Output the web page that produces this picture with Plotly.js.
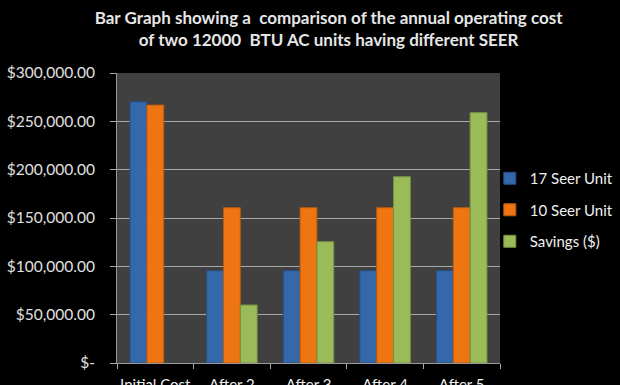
<!DOCTYPE html>
<html>
<head>
<meta charset="utf-8">
<script src="https://cdn.plot.ly/plotly-3.0.1.min.js"></script>
<style>html,body{margin:0;padding:0;background:#000;}#chart{width:620px;height:385px;}</style>
</head>
<body>
<div id="chart"></div>
<script>
const categories = ["Initial Cost", "After 2", "After 3", "After 4", "After 5"];
const seer17 = [270300, 95500, 95500, 95500, 95500];
const seer10 = [266800, 160700, 160700, 160700, 160700];
const savings = [null, 60000, 125500, 192700, 259000];
const tickVals = [0, 50000, 100000, 150000, 200000, 250000, 300000];
const tickText = ["$-", "$50,000.00", "$100,000.00", "$150,000.00", "$200,000.00", "$250,000.00", "$300,000.00"];
const seriesNames = ["17 Seer Unit", "10 Seer Unit", "Savings ($)"];
const colors = ["#3468ab", "#ee7512", "#9bbb59"];
const edge = ["#254d82", "#b85a0c", "#769044"];

const data = [seer17, seer10, savings].map((vals, i) => ({
  type: "bar",
  x: categories,
  y: vals,
  name: seriesNames[i],
  legendgroup: "g" + i,
  marker: {color: colors[i], line: {color: edge[i], width: 1}}
}));

const layout = {
  width: 620, height: 385,
  paper_bgcolor: "#000",
  plot_bgcolor: "#404040",
  margin: {l: 117, r: 120, t: 73, b: 22, autoexpand: false},
  font: {family: "Lato, 'Open Sans', sans-serif", color: "#e0e0e0", size: 13},
  title: {
    text: "<b>Bar Graph showing a  comparison of the annual operating cost</b><br><b>of two 12000  BTU AC units having different SEER</b>",
    font: {size: 17, color: "#e6e6e6", family: "Lato, 'Open Sans', sans-serif"},
    xref: "container", yref: "container",
    x: 0.53, xanchor: "center", y: 0.937, yanchor: "top"
  },
  barmode: "group",
  bargap: 0.34,
  bargroupgap: 0,
  showlegend: true,
  legend: {
    xref: "container", yref: "container",
    x: 0.79, xanchor: "left", y: 0.4545, yanchor: "middle",
    font: {size: 15, color: "#f0f0f0"},
    bgcolor: "rgba(0,0,0,0)",
    traceorder: "grouped",
    tracegroupgap: 9,
    itemwidth: 30
  },
  xaxis: {
    type: "category",
    tickson: "boundaries",
    tickangle: 0,
    ticks: "outside", ticklen: 5, tickcolor: "#aaa",
    showline: true, linecolor: "#999", linewidth: 1,
    showgrid: false,
    tickfont: {size: 15, color: "#eee"},
    ticklabelstandoff: 8,
    automargin: false,
    fixedrange: true
  },
  yaxis: {
    range: [0, 300000],
    tickvals: tickVals, ticktext: tickText,
    ticks: "outside", ticklen: 6, tickcolor: "#aaa",
    showline: true, linecolor: "#999", linewidth: 1,
    showgrid: true, gridcolor: "#a8a8a8", gridwidth: 1,
    zeroline: false,
    tickfont: {size: 15.5, color: "#e0e0e0"},
    ticklabelstandoff: 12,
    automargin: false,
    fixedrange: true
  }
};

Plotly.newPlot("chart", data, layout, {displayModeBar: false, staticPlot: true});
</script>
</body>
</html>
